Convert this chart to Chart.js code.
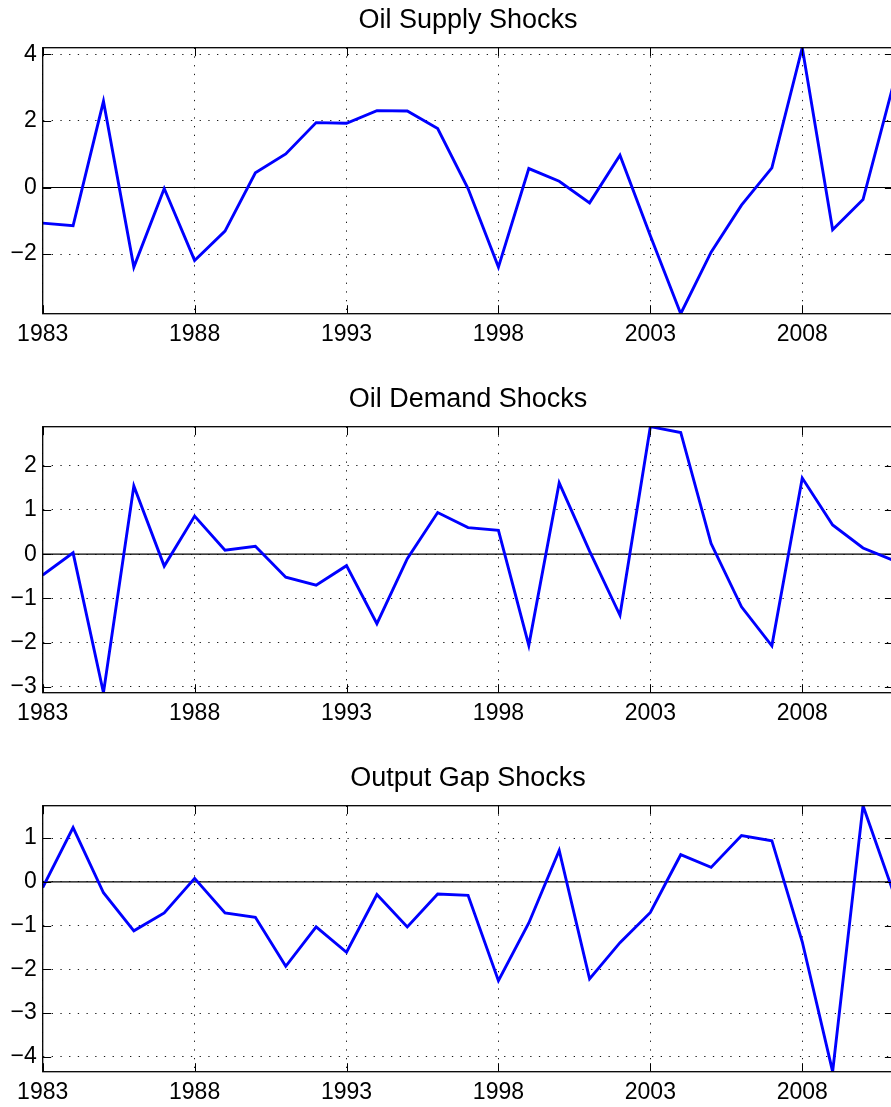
<!DOCTYPE html>
<html>
<head>
<meta charset="utf-8">
<script src="https://cdn.jsdelivr.net/npm/chart.js@4.4.1/dist/chart.umd.min.js"></script>
<style>
  html, body { margin: 0; padding: 0; background: #fff; overflow: hidden; }
  #page { position: relative; width: 891px; height: 1107px; overflow: hidden; background: #fff; }
  #page canvas { position: absolute; left: 0; }
</style>
</head>
<body>
<div id="page">
  <canvas id="supply" width="936" height="354" style="top:0px;width:936px;height:354px"></canvas>
  <canvas id="demand" width="936" height="354" style="top:379px;width:936px;height:354px"></canvas>
  <canvas id="gap" width="936" height="354" style="top:758px;width:936px;height:354px"></canvas>
</div>
<script>
// years on the x axis
const years = [1983, 1984, 1985, 1986, 1987, 1988, 1989, 1990, 1991, 1992,
  1993, 1994, 1995, 1996, 1997, 1998, 1999, 2000, 2001, 2002,
  2003, 2004, 2005, 2006, 2007, 2008, 2009, 2010, 2011];
const yearTicks = [1983, 1988, 1993, 1998, 2003, 2008];

// shock series
const supplyShocks = [-1.07, -1.15, 2.59, -2.39, -0.03, -2.19, -1.31, 0.44, 1.01, 1.95,
  1.93, 2.31, 2.30, 1.77, -0.03, -2.39, 0.57, 0.19, -0.46, 0.97,
  -1.45, -3.79, -1.94, -0.53, 0.59, 4.20, -1.27, -0.36, 3.10];
const demandShocks = [-0.47, 0.03, -3.13, 1.54, -0.27, 0.86, 0.09, 0.18, -0.52, -0.70,
  -0.26, -1.57, -0.10, 0.94, 0.60, 0.54, -2.06, 1.61, 0.07, -1.38,
  2.88, 2.75, 0.24, -1.19, -2.07, 1.72, 0.66, 0.14, -0.14];
const gapShocks = [-0.13, 1.24, -0.25, -1.12, -0.71, 0.08, -0.71, -0.81, -1.93, -1.03,
  -1.61, -0.29, -1.03, -0.28, -0.31, -2.26, -0.94, 0.72, -2.22, -1.39,
  -0.70, 0.62, 0.33, 1.06, 0.94, -1.37, -4.34, 1.74, -0.24];

// y tick labels per panel
const supplyTicks = [-2, 0, 2, 4];
const demandTicks = [-3, -2, -1, 0, 1, 2];
const gapTicks = [-4, -3, -2, -1, 0, 1];

const TICK_LEN = 8.5;
const FONT = "'Liberation Sans', Arial, Helvetica, sans-serif";

Chart.defaults.font.family = FONT;
Chart.defaults.color = "#000";

// box round the plot and the small inward ticks, matlab style
const framePlugin = {
  id: "frame",
  afterDraw(chart) {
    const { ctx, chartArea: a, scales } = chart;
    ctx.save();
    ctx.strokeStyle = "#000";
    ctx.lineWidth = 1;
    ctx.beginPath();
    scales.x.ticks.forEach((t) => {
      const px = Math.round(scales.x.getPixelForValue(t.value)) + 0.5;
      ctx.moveTo(px, a.bottom);
      ctx.lineTo(px, a.bottom - TICK_LEN);
      ctx.moveTo(px, a.top);
      ctx.lineTo(px, a.top + TICK_LEN);
    });
    scales.y.ticks.forEach((t) => {
      const py = Math.round(scales.y.getPixelForValue(t.value)) + 0.5;
      ctx.moveTo(a.left, py);
      ctx.lineTo(a.left + TICK_LEN, py);
      ctx.moveTo(a.right, py);
      ctx.lineTo(a.right - TICK_LEN, py);
    });
    ctx.stroke();
    ctx.lineWidth = 1.3;
    ctx.strokeRect(a.left, a.top, a.right - a.left, a.bottom - a.top);
    ctx.restore();
  },
};

function makePanel(canvasId, title, values, yTicks) {
  const points = years.map((yr, i) => ({ x: yr, y: values[i] }));
  const zeroLine = [
    { x: years[0], y: 0 },
    { x: years[years.length - 1], y: 0 },
  ];
  return new Chart(document.getElementById(canvasId), {
    type: "line",
    data: {
      datasets: [
        {
          data: points,
          borderColor: "#0000ff",
          borderWidth: 2.9,
          pointRadius: 0,
          tension: 0,
          borderJoinStyle: "miter",
        },
        {
          data: zeroLine,
          borderColor: "#000",
          borderWidth: 1.2,
          pointRadius: 0,
        },
      ],
    },
    options: {
      responsive: false,
      animation: false,
      devicePixelRatio: 1,
      layout: { padding: 0 },
      plugins: {
        legend: { display: false },
        tooltip: { enabled: false },
        title: {
          display: true,
          text: title,
          color: "#000",
          font: { size: 27, weight: "normal", family: FONT },
          padding: { top: 4.2, bottom: 11.1 },
        },
      },
      scales: {
        x: {
          type: "linear",
          min: years[0],
          max: years[years.length - 1],
          afterBuildTicks: (scale) => {
            scale.ticks = yearTicks.map((v) => ({ value: v }));
          },
          afterFit: (scale) => {
            scale.height = 40.3;
          },
          ticks: {
            callback: (v) => String(v),
            font: { size: 23 },
            padding: 6.8,
            maxRotation: 0,
            autoSkip: false,
          },
          grid: {
            drawTicks: false,
            color: "rgba(0,0,0,0.9)",
            lineWidth: 1,
          },
          border: { display: false, dash: [1.3, 7.4] },
        },
        y: {
          position: "left",
          min: Math.min(...values),
          max: Math.max(...values),
          afterBuildTicks: (scale) => {
            scale.ticks = yTicks.map((v) => ({ value: v }));
          },
          afterFit: (scale) => {
            scale.width = 42.7;
          },
          ticks: {
            callback: (v) => String(v).replace("-", "\u2212"),
            font: { size: 23 },
            padding: 6,
          },
          grid: {
            drawTicks: false,
            color: "rgba(0,0,0,0.9)",
            lineWidth: 1,
          },
          border: { display: false, dash: [1.3, 7.4] },
        },
        // empty right axis so the plot is centred under the title
        yRight: {
          position: "right",
          display: true,
          afterFit: (scale) => {
            scale.width = 42.6;
          },
          ticks: { display: false },
          grid: { display: false, drawTicks: false },
          border: { display: false },
        },
      },
    },
    plugins: [framePlugin],
  });
}

makePanel("supply", "Oil Supply Shocks", supplyShocks, supplyTicks);
makePanel("demand", "Oil Demand Shocks", demandShocks, demandTicks);
makePanel("gap", "Output Gap Shocks", gapShocks, gapTicks);
</script>
</body>
</html>
